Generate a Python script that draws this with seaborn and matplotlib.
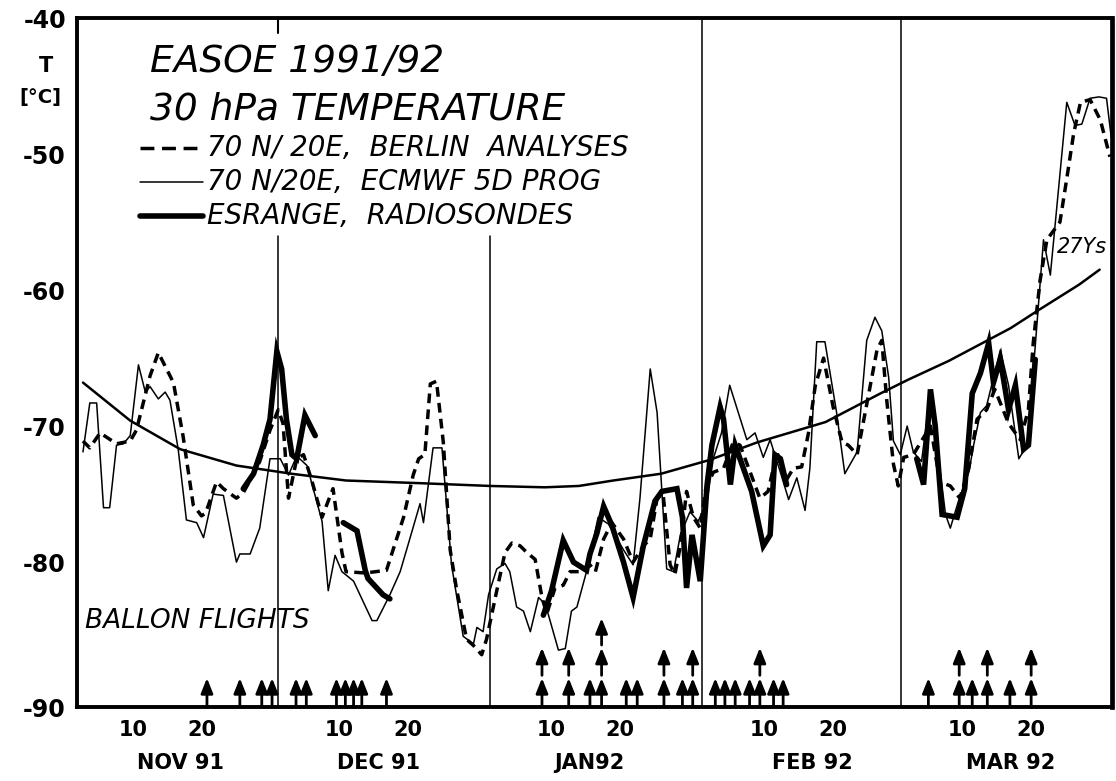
import numpy as np
import pandas as pd
import matplotlib
matplotlib.use("Agg")
import matplotlib.pyplot as plt
from matplotlib.lines import Line2D
import seaborn as sns

# ---------------- data (x = days since 1 Nov 1991, T in deg C) ----------------
berlin_day = [1.6, 2.6, 4.1, 6.5, 8.5, 9.4, 11.4, 12.6, 14.8, 16.2, 17.7, 18.9, 19.5, 21.1, 22.1,
              24.0, 25.0, 26.2, 27.4, 28.9, 30.1, 30.8, 31.6, 32.8, 33.8, 35.0, 36.5, 37.4, 38.1,
              39.4, 40.0, 42.8, 45.9, 48.4, 49.8, 50.6, 51.5, 52.3, 53.2, 54.2, 55.2, 56.1, 57.6,
              58.6, 59.8, 60.5, 62.0, 63.2, 64.2, 65.4, 66.4, 67.6, 68.6, 69.3, 70.5, 71.7, 72.7,
              74.2, 75.6, 76.4, 77.6, 78.8, 80.5, 81.9, 83.4, 84.4, 85.4, 86.3, 87.3, 88.0, 88.8,
              89.7, 90.7, 91.7, 92.5, 93.6, 95.1, 96.5, 97.5, 99.0, 100.4, 101.6, 102.9, 104.1,
              105.3, 106.5, 107.5, 108.5, 109.7, 111.1, 112.4, 113.3, 114.6, 116.0, 117.5, 118.2,
              118.9, 119.9, 120.6, 121.4, 122.8, 125.3, 126.7, 128.2, 129.6, 130.9, 132.1, 133.5,
              134.7, 136.7, 138.4, 139.6, 140.3, 141.3, 142.3, 144.2, 145.2, 146.2, 147.2, 148.6,
              150.1, 151.5]
berlin_T = [-71.1, -71.6, -70.5, -71.3, -71.1, -70.3, -66.3, -64.6, -66.8, -70.7, -75.8, -76.6, -76.4,
            -74.1, -74.6, -75.3, -74.9, -73.8, -72.6, -70.3, -68.8, -69.8, -75.3, -72.4, -72.1, -74.0,
            -76.7, -75.5, -74.6, -79.3, -80.7, -80.8, -80.6, -76.7, -73.6, -72.4, -72.1, -66.9, -66.7,
            -71.2, -79.1, -81.9, -85.6, -86.0, -86.6, -85.6, -82.1, -79.3, -78.6, -78.8, -79.3, -79.8,
            -82.6, -83.8, -81.9, -81.7, -80.7, -80.7, -80.2, -80.7, -78.3, -77.1, -78.3, -80.0, -78.8,
            -78.3, -75.3, -75.1, -80.2, -80.9, -78.8, -74.8, -76.7, -77.5, -74.6, -73.4, -73.1, -71.2,
            -71.4, -73.4, -75.3, -74.8, -71.9, -74.1, -73.1, -73.0, -70.5, -67.0, -65.0, -68.6, -71.2,
            -71.4, -72.1, -68.4, -64.4, -63.7, -68.0, -72.8, -74.4, -72.3, -72.1, -70.0, -74.1, -74.4,
            -75.3, -73.1, -69.5, -68.8, -67.3, -69.8, -71.0, -68.8, -63.9, -59.3, -56.3, -55.0, -51.8,
            -48.5, -46.2, -46.0, -47.5, -50.2]

ecmwf_day = [1.6, 2.6, 3.6, 4.6, 5.5, 6.5, 7.5, 8.5, 9.7, 10.7, 11.4, 12.6, 13.6, 14.3, 15.5, 16.7,
             18.2, 19.2, 20.6, 22.1, 24.0, 24.5, 26.0, 27.4, 28.9, 30.4, 31.6, 32.8, 34.3, 36.5, 37.4,
             38.4, 39.4, 41.1, 43.8, 44.5, 46.4, 47.9, 49.3, 50.8, 51.3, 52.7, 54.0, 55.4, 57.1, 58.6,
             59.1, 60.0, 60.8, 62.0, 63.2, 63.9, 64.9, 65.9, 66.9, 68.1, 69.1, 71.0, 72.0, 72.9, 73.7,
             75.1, 76.8, 78.3, 80.5, 81.9, 82.9, 84.4, 85.4, 86.1, 86.8, 87.8, 88.8, 90.2, 91.4, 92.7,
             93.6, 94.8, 96.0, 98.5, 99.7, 100.9, 101.9, 103.4, 104.6, 105.8, 107.0, 107.7, 108.7,
             109.9, 111.6, 112.8, 114.6, 116.0, 117.2, 118.2, 119.2, 119.9, 120.9, 121.9, 122.8, 124.0,
             125.3, 126.5, 127.5, 128.2, 129.4, 130.9, 131.6, 132.6, 133.5, 135.5, 136.7, 138.2, 139.4,
             140.6, 141.8, 142.8, 145.2, 146.4, 147.4, 148.6, 149.9, 151.0, 151.7]
ecmwf_T = [-71.9, -68.3, -68.3, -76.0, -76.0, -71.4, -71.3, -70.7, -65.5, -67.5, -67.1, -68.0, -67.5,
           -68.1, -71.7, -76.9, -77.1, -78.2, -75.0, -75.1, -80.0, -79.4, -79.4, -77.5, -72.4, -72.4,
           -73.6, -72.2, -72.9, -77.0, -82.1, -79.5, -80.7, -81.4, -84.3, -84.3, -82.4, -80.7, -78.3,
           -75.7, -77.1, -71.6, -71.6, -80.2, -85.4, -85.9, -84.8, -85.1, -82.4, -80.5, -80.1, -80.7,
           -83.3, -83.6, -85.1, -82.6, -83.1, -86.3, -86.2, -83.6, -83.3, -80.7, -76.7, -77.2, -79.1,
           -80.2, -75.3, -65.8, -69.0, -74.8, -80.5, -80.7, -78.0, -76.3, -77.0, -75.5, -72.4, -70.5,
           -67.0, -71.0, -70.5, -72.3, -71.0, -73.4, -75.4, -73.8, -76.2, -73.1, -63.8, -63.8, -69.0,
           -73.5, -71.9, -63.7, -62.0, -63.0, -66.4, -71.1, -72.1, -70.0, -71.9, -72.6, -67.5, -72.4,
           -76.5, -77.5, -75.5, -73.4, -71.4, -69.0, -68.5, -64.4, -67.0, -72.4, -71.4, -64.1, -56.3,
           -58.9, -46.2, -47.9, -47.8, -45.9, -45.8, -45.9, -48.8]

sonde1_day = [25.0, 26.5, 27.9, 28.9, 29.9, 30.6, 31.3, 32.1, 32.8, 34.0, 35.5]
sonde1_T = [-74.6, -73.5, -71.4, -69.5, -64.5, -65.8, -69.5, -72.1, -72.4, -69.2, -70.7]
sonde2_day = [39.6, 41.6, 42.8, 43.2, 45.4, 46.4]
sonde2_T = [-77.1, -77.7, -80.6, -81.2, -82.4, -82.7]
sonde3_day = [68.8, 70.0, 71.7, 73.2, 75.1, 75.6, 76.6, 77.6, 78.8, 80.5, 81.9, 83.4, 85.1, 86.1, 88.3,
              89.1, 89.7, 90.5, 91.7, 92.7, 93.4, 94.6, 95.1, 96.1, 96.8, 97.5, 99.2, 100.9, 101.9,
              102.6, 103.4, 104.3]
sonde3_T = [-83.9, -82.1, -78.4, -80.0, -80.6, -79.4, -77.9, -75.9, -77.3, -80.0, -82.6, -78.8, -75.5,
            -74.8, -74.6, -76.7, -81.9, -78.0, -81.4, -74.3, -71.4, -68.6, -69.5, -74.3, -71.4, -72.4,
            -74.8, -78.8, -78.0, -72.1, -72.4, -74.3]
sonde4_day = [123.3, 124.3, 125.3, 126.0, 127.0, 129.2, 130.3, 131.4, 132.6, 133.8, 134.5, 135.5, 136.7,
              137.7, 138.9, 139.6, 140.6]
sonde4_T = [-72.4, -74.3, -67.3, -70.0, -76.5, -76.7, -74.6, -67.6, -66.1, -63.9, -66.8, -65.1, -68.8,
            -67.0, -71.7, -71.4, -65.1]

clim_day = [1.6, 8.5, 15.8, 24.0, 32.0, 40.0, 51.0, 61.0, 69.0, 74.0, 79.0, 86.0, 93.0, 100.0, 110.0,
            118.0, 122.0, 128.0, 137.0, 141.0, 147.0, 150.0]
clim_T = [-66.8, -69.6, -71.7, -72.9, -73.5, -74.0, -74.2, -74.4, -74.5, -74.4, -74.0, -73.5, -72.5,
          -71.2, -69.7, -67.6, -66.6, -65.2, -62.8, -61.5, -59.6, -58.5]

flight_day = [19.7, 24.5, 27.7, 29.2, 32.7, 34.2, 38.6, 39.9, 41.1, 42.3, 45.9,
              68.6, 72.5, 75.6, 77.3, 80.9, 82.5, 86.4, 89.1, 90.6,
              93.9, 95.3, 96.8, 98.9, 100.4, 102.4, 103.8,
              125.0, 129.5, 131.4, 133.6, 136.9, 140.0]
flight_count = [1, 1, 1, 1, 1, 1, 1, 1, 1, 1, 1,
                2, 2, 1, 3, 1, 1, 2, 1, 2,
                1, 1, 1, 1, 2, 1, 1,
                1, 2, 1, 2, 1, 2]

month_start_day = [30, 61, 92, 121]
month_names = ["NOV 91", "DEC 91", "JAN92", "FEB 92", "MAR 92"]
month_label_day = [15.9, 44.8, 75.5, 108.0, 137.0]
day_label_pos = [9, 19, 39, 49, 70, 80, 101, 111, 130, 140]
day_label_txt = ["10", "20"] * 5
day_minor_pos = [4, 14, 24, 29, 34, 44, 54, 59, 65, 75, 85, 90, 96, 106, 116, 125, 135, 145, 150]
y_major = [-90, -80, -70, -60, -50, -40]
y_major_txt = ["-90", "-80", "-70", "-60", "-50", "-40"]
y_minor = [-85, -75, -65, -55, -45]

# ---------------- figure ----------------
sns.set_style("white")
plt.rcParams["font.family"] = ["DejaVu Sans"]
plt.rcParams["axes.unicode_minus"] = False
for key in ["text.color", "axes.labelcolor", "xtick.color", "ytick.color", "axes.edgecolor"]:
    plt.rcParams[key] = "black"

W, H = 1116, 781
L, R, T, B = 77, 1112, 18, 707
fig = plt.figure(figsize=(W / 100, H / 100), dpi=100)
ax = fig.add_axes([L / W, 1 - B / H, (R - L) / W, (B - T) / H])

K = 1.13  # bottom band (balloon flights) is drawn slightly stretched


def fwd(y):
    y = np.asarray(y, dtype=float)
    return np.where(y >= -85, y, -85 + (y + 85) * K)


def inv(u):
    u = np.asarray(u, dtype=float)
    return np.where(u >= -85, u, -85 + (u + 85) / K)


clim_df = pd.DataFrame({"day": clim_day, "T": clim_T})
sns.lineplot(data=clim_df, x="day", y="T", ax=ax, color="black", linewidth=1.8,
             estimator=None, sort=False)
ecmwf_df = pd.DataFrame({"day": ecmwf_day, "T": ecmwf_T})
sns.lineplot(data=ecmwf_df, x="day", y="T", ax=ax, color="black", linewidth=1.1,
             estimator=None, sort=False)
berlin_df = pd.DataFrame({"day": berlin_day, "T": berlin_T})
sns.lineplot(data=berlin_df, x="day", y="T", ax=ax, color="black", linewidth=2.5,
             linestyle=(0, (2.8, 1.8)), estimator=None, sort=False)
for sd, st in [(sonde1_day, sonde1_T), (sonde2_day, sonde2_T),
               (sonde3_day, sonde3_T), (sonde4_day, sonde4_T)]:
    sdf = pd.DataFrame({"day": sd, "T": st})
    sns.lineplot(data=sdf, x="day", y="T", ax=ax, color="black", linewidth=4.0,
                 estimator=None, sort=False, solid_joinstyle="miter")

ax.set_yscale("function", functions=(fwd, inv))
ax.set_xlim(0.73, 151.8)
ax.set_ylim(-90, -40)

# month boundaries
xt = ax.get_xaxis_transform()
ax.axvline(month_start_day[0], ymin=0, ymax=0.684, color="black", lw=1.1)
ax.axvline(month_start_day[0], ymin=0.978, ymax=1, color="black", lw=1.5)
ax.axvline(month_start_day[1], ymin=0, ymax=0.684, color="black", lw=1.1)
ax.axvline(month_start_day[2], ymin=0, ymax=1, color="black", lw=1.1)
ax.axvline(month_start_day[3], ymin=0, ymax=1, color="black", lw=1.1)

# balloon flight arrows
levels = [(0.0, 0.042), (0.046, 0.086), (0.090, 0.129)]
for d, n in zip(flight_day, flight_count):
    for k in range(n):
        b0, t0 = levels[k]
        ax.annotate("", xy=(d, t0), xytext=(d, b0), xycoords=xt, textcoords=xt,
                    arrowprops=dict(arrowstyle="-|>,head_length=0.45,head_width=0.18",
                                    color="black", lw=2.0, shrinkA=0, shrinkB=0,
                                    mutation_scale=20))

# ticks
ax.set_xticks(day_label_pos)
ax.set_xticklabels(day_label_txt)
ax.set_xticks(day_minor_pos, minor=True)
ax.set_yticks(y_major)
ax.set_yticklabels(y_major_txt)
ax.set_yticks(y_minor, minor=True)
ax.tick_params(axis="both", which="both", direction="in", length=9, width=1.8,
               color="black", labelcolor="black", top=False, right=False)
ax.tick_params(axis="x", which="major", pad=9, labelsize=15)
ax.tick_params(axis="y", which="major", pad=8, labelsize=17)
for lab in ax.get_xticklabels() + ax.get_yticklabels():
    lab.set_fontweight("bold")
ax.set_xlabel("")
ax.set_ylabel("")
for s in ax.spines.values():
    s.set_visible(True)
    s.set_color("black")
    s.set_linewidth(2.8)
ax.spines["right"].set_linewidth(3.4)

# month names
for d, name in zip(month_label_day, month_names):
    ax.text(d, -0.081, name, transform=xt, ha="center", va="center",
            fontsize=15, fontweight="bold", color="black")


def px(x, y):
    return x / W, 1 - y / H


# axis title
fig.text(*px(46, 66), "T", ha="center", va="center", fontsize=15, fontweight="bold", color="black")
fig.text(*px(40, 97), "[°C]", ha="center", va="center", fontsize=14, fontweight="bold", color="black")

# titles
fig.text(*px(150, 62), "EASOE 1991/92", ha="left", va="center", fontsize=27, style="italic",
         color="black")
fig.text(*px(150, 110), "30 hPa TEMPERATURE", ha="left", va="center", fontsize=27, style="italic",
         color="black")

# legend (manual)
leg_rows = [("70 N/ 20E,  BERLIN  ANALYSES", 148, dict(lw=2.5, ls=(0, (4.0, 2.2)))),
            ("70 N/20E,  ECMWF 5D PROG", 182, dict(lw=1.1, ls="-")),
            ("ESRANGE,  RADIOSONDES", 216, dict(lw=4.0, ls="-"))]
for label, yy, st in leg_rows:
    x0, y0 = px(140, yy)
    x1, _ = px(203, yy)
    fig.add_artist(Line2D([x0, x1], [y0, y0], color="black", transform=fig.transFigure, **st))
    fig.text(*px(207, yy), label, ha="left", va="center", fontsize=20, style="italic",
             color="black")

# in-plot annotations
ax.text(*px(85, 621), "BALLON FLIGHTS", transform=fig.transFigure, ha="left", va="center",
        fontsize=19, style="italic", color="black")
ax.text(*px(1057, 247), "27Ys", transform=fig.transFigure, ha="left", va="center",
        fontsize=15, style="italic", color="black")

fig.savefig("out.png", dpi=100)
